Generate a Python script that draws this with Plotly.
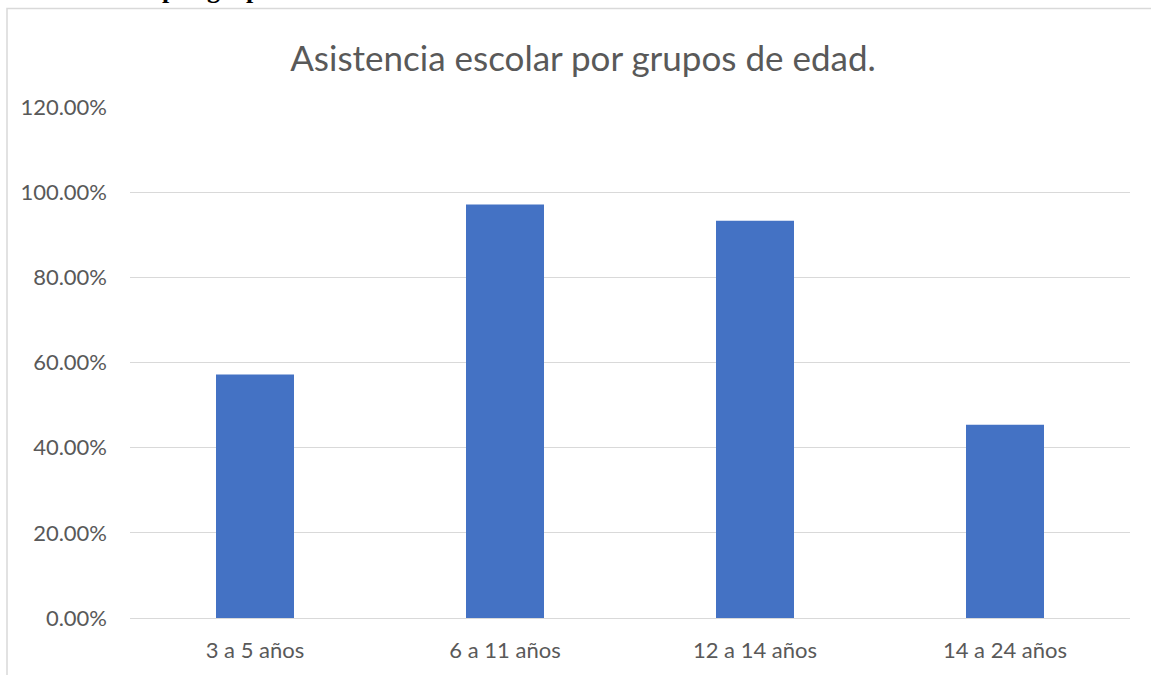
import plotly.graph_objects as go

categories = ["3 a 5 años", "6 a 11 años", "12 a 14 años", "14 a 24 años"]
values = [0.572, 0.971, 0.933, 0.454]
y_ticks = [0, 0.2, 0.4, 0.6, 0.8, 1.0, 1.2]

fig = go.Figure()
fig.add_trace(go.Bar(x=categories, y=values, marker=dict(color="#4472C4", line=dict(width=0)),
                     hoverinfo="skip"))

FONT = "Lato, Open Sans, sans-serif"
fig.update_layout(
    width=1151, height=675,
    margin=dict(l=130, r=21, t=107, b=55),
    paper_bgcolor="white", plot_bgcolor="white",
    bargap=0.688,
    showlegend=False,
    font=dict(family=FONT, color="#595959"),
    title=dict(text="Asistencia escolar por grupos de edad.", x=583 / 1151, xanchor="center",
               xref="container", y=1 - 59 / 675, yanchor="middle", yref="container",
               font=dict(size=35, color="#595959", family=FONT)),
    xaxis=dict(showgrid=False, showline=True, linecolor="#d9d9d9", linewidth=1,
               tickfont=dict(size=22, color="#595959"), ticks="", ticklabelstandoff=13,
               zeroline=False),
    yaxis=dict(range=[0, 1.2], tickvals=y_ticks, tickformat=".2%", showgrid=True,
               gridcolor="#d9d9d9", gridwidth=1, zeroline=False, showline=False,
               tickfont=dict(size=22, color="#595959"), ticks="", ticklabelstandoff=22),
    shapes=[dict(type="rect", xref="paper", yref="paper", x0=(7 - 130) / 1000, x1=1.1,
                 y0=-0.2, y1=(620 - 8) / 513, line=dict(color="#d9d9d9", width=1.5),
                 fillcolor="rgba(0,0,0,0)", layer="below")],
    annotations=[dict(text="<b>por grupos</b>", xref="paper", yref="paper",
                      x=(160 - 130) / 1000, y=(620 - 6) / 513, xanchor="left", yanchor="bottom",
                      showarrow=False,
                      font=dict(family="Liberation Serif, serif", size=26, color="black"))],
)

fig.write_html("out.html",
               config={"displayModeBar": False},
               post_script="document.body.style.margin='0';document.body.style.overflow='hidden';")
